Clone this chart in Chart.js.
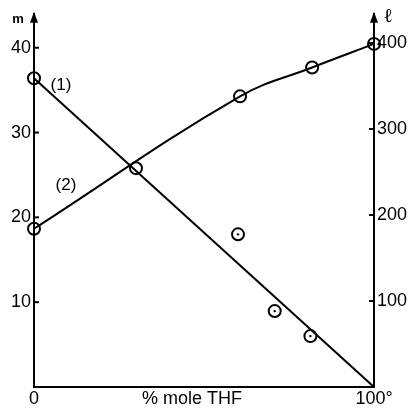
<!DOCTYPE html>
<html>
<head>
<meta charset="utf-8">
<script src="https://cdn.jsdelivr.net/npm/chart.js@4.4.1/dist/chart.umd.min.js"></script>
<style>
  html, body { margin: 0; padding: 0; background: #fff; }
  #wrap { width: 414px; height: 408px; }
</style>
</head>
<body>
<div id="wrap"><canvas id="chart" width="414" height="408"></canvas></div>
<script>
const xTicks = [0, 100];
const mTicks = [10, 20, 30, 40];
const lTicks = [100, 200, 300, 400];

// (1) m against % mole THF
const mX = [0, 30, 60, 70.8, 81.3];
const mY = [36.4, 25.8, 18.0, 8.95, 6.0];
// straight line drawn for (1)
const mLineX = [0, 100];
const mLineY = [36.4, 0];

// (2) l against % mole THF
const lX = [0, 60.6, 81.8, 100];
const lY = [184, 338, 371.5, 399];

const pts = (xs, ys) => xs.map((x, i) => ({ x, y: ys[i] }));
const FONT = 'Liberation Sans, Arial, sans-serif';

// inward tick marks, axis arrows and the free text
const extras = {
  id: 'extras',
  afterDraw(chart) {
    const { ctx, chartArea: a, scales } = chart;
    ctx.save();
    ctx.strokeStyle = '#000';
    ctx.fillStyle = '#000';
    ctx.lineWidth = 2;
    const seg = (x1, y1, x2, y2) => { ctx.beginPath(); ctx.moveTo(x1, y1); ctx.lineTo(x2, y2); ctx.stroke(); };
    mTicks.forEach(v => { const y = scales.y.getPixelForValue(v); seg(a.left, y, a.left + 5, y); });
    lTicks.forEach(v => { const y = scales.y2.getPixelForValue(v); seg(a.right - 5, y, a.right, y); });
    [a.left, a.right].forEach(x => {
      ctx.beginPath();
      ctx.moveTo(x, a.top - 2);
      ctx.lineTo(x - 4, a.top + 9);
      ctx.lineTo(x + 4, a.top + 9);
      ctx.closePath();
      ctx.fill();
    });
    ctx.textAlign = 'center';
    ctx.textBaseline = 'middle';
    ctx.font = 'bold 13px ' + FONT;
    ctx.fillText('m', 18, 19);
    ctx.font = '20px DejaVu Serif, serif';
    ctx.fillText('ℓ', 388, 17);
    ctx.font = '17px ' + FONT;
    ctx.fillText('(1)', 61, 85);
    ctx.fillText('(2)', 66, 185);
    ctx.font = '18px ' + FONT;
    ctx.fillText('% mole THF', 192, 399);
    ctx.restore();
  }
};

new Chart(document.getElementById('chart'), {
  type: 'line',
  data: {
    datasets: [
      {
        label: '(1) line',
        data: pts(mLineX, mLineY),
        yAxisID: 'y',
        borderColor: '#000',
        borderWidth: 2,
        pointRadius: 0,
        clip: false
      },
      {
        label: '(1)',
        data: pts(mX, mY),
        yAxisID: 'y',
        showLine: false,
        pointRadius: 6,
        pointBorderWidth: 2,
        pointBorderColor: '#000',
        pointBackgroundColor: 'rgba(0,0,0,0)',
        clip: false
      },
      {
        label: '(1) centres',
        data: pts(mX, mY).filter(p => p.x >= 60),
        yAxisID: 'y',
        showLine: false,
        pointRadius: 1.2,
        pointBorderWidth: 0,
        pointBackgroundColor: '#000',
        clip: false
      },
      {
        label: '(2)',
        data: pts(lX, lY),
        yAxisID: 'y2',
        borderColor: '#000',
        borderWidth: 2,
        tension: 0.4,
        pointRadius: 6,
        pointBorderWidth: 2,
        pointBorderColor: '#000',
        pointBackgroundColor: 'rgba(0,0,0,0)',
        clip: false
      }
    ]
  },
  options: {
    responsive: false,
    animation: false,
    events: [],
    layout: { padding: { top: 12, left: 0, right: 0, bottom: 0 } },
    plugins: { legend: { display: false }, tooltip: { enabled: false } },
    scales: {
      x: {
        type: 'linear',
        min: 0,
        max: 100,
        afterBuildTicks: s => { s.ticks = xTicks.map(v => ({ value: v })); },
        afterFit: s => { s.height = 21; },
        grid: { display: false, drawTicks: false },
        border: { display: true, color: '#000', width: 2 },
        ticks: {
          padding: 1,
          color: '#000',
          font: { family: FONT, size: 18 },
          maxRotation: 0,
          autoSkip: false,
          callback: v => v === 100 ? '100°' : String(v)
        }
      },
      y: {
        type: 'linear',
        position: 'left',
        min: 0,
        max: 44,
        afterBuildTicks: s => { s.ticks = mTicks.map(v => ({ value: v })); },
        afterFit: s => { s.width = 34; },
        grid: { display: false, drawTicks: false },
        border: { display: true, color: '#000', width: 2 },
        ticks: { padding: 3, color: '#000', font: { family: FONT, size: 18 } }
      },
      y2: {
        type: 'linear',
        position: 'right',
        min: 0,
        max: 434,
        afterBuildTicks: s => { s.ticks = lTicks.map(v => ({ value: v })); },
        afterFit: s => { s.width = 40; },
        grid: { display: false, drawTicks: false },
        border: { display: true, color: '#000', width: 2 },
        ticks: { padding: 3, color: '#000', font: { family: FONT, size: 18 } }
      }
    }
  },
  plugins: [extras]
});
</script>
</body>
</html>
